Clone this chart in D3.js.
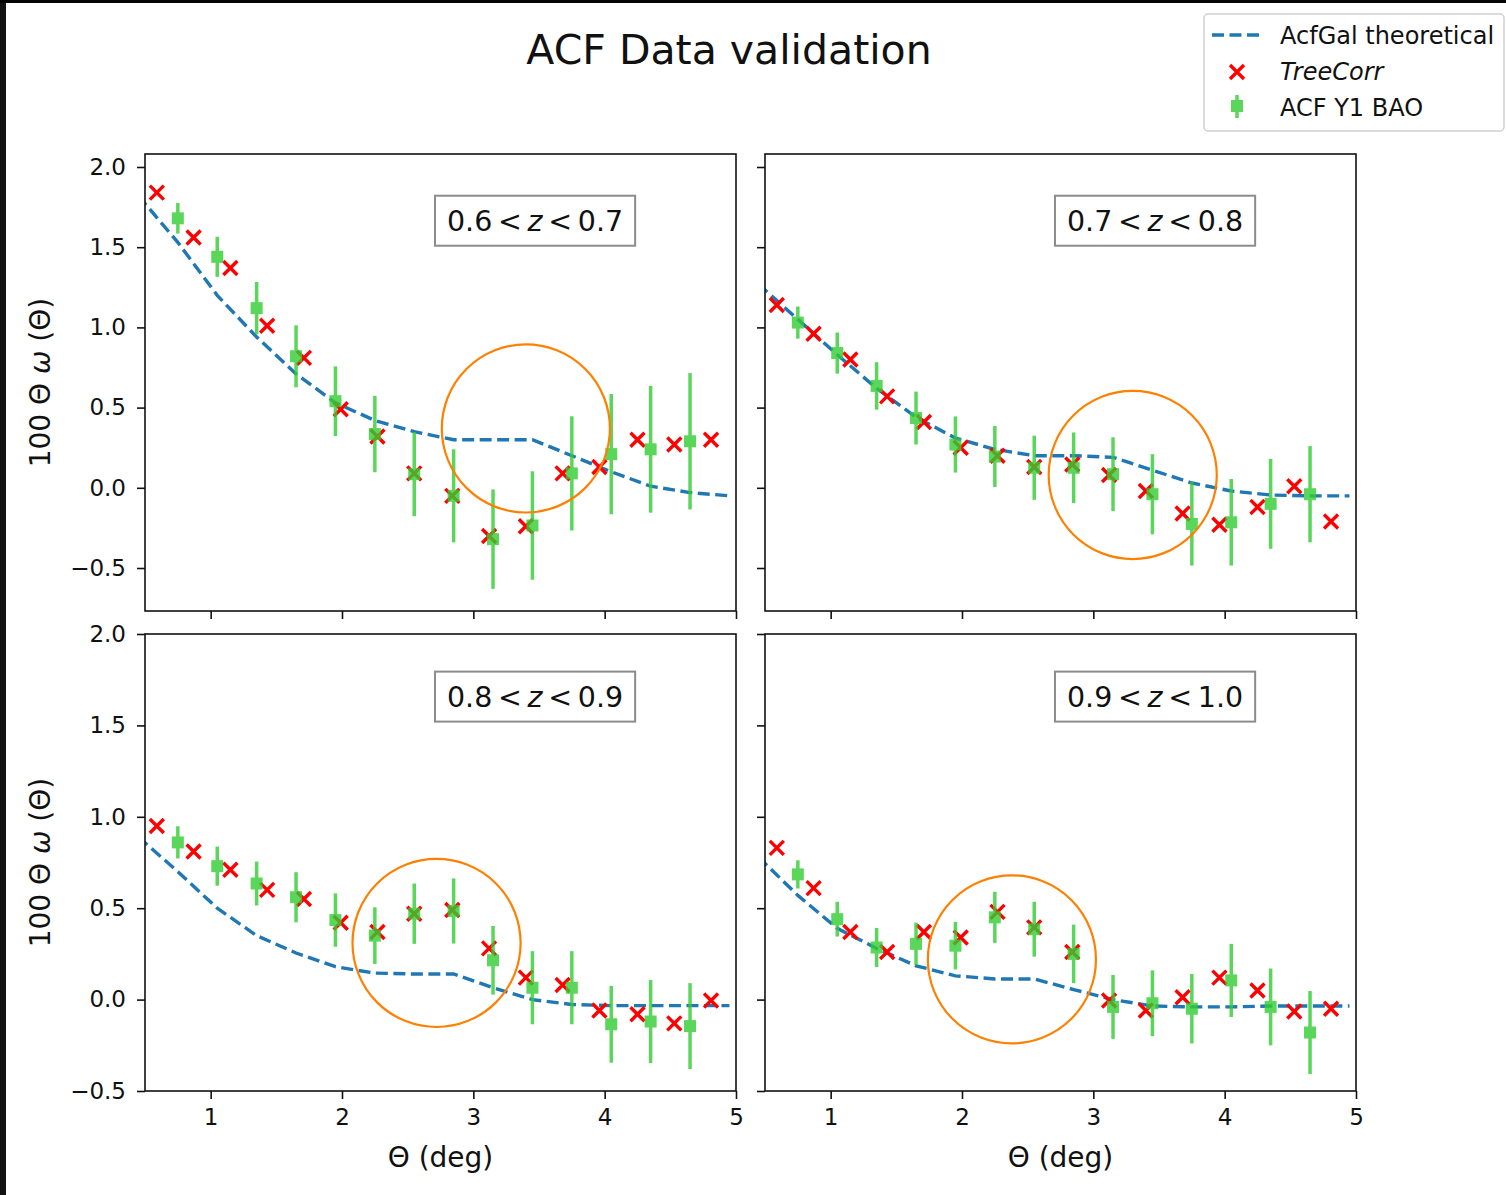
<!DOCTYPE html>
<html>
<head>
<meta charset="utf-8">
<script src="https://cdn.jsdelivr.net/npm/d3@7"></script>
<style>
  body { margin: 0; background: #fff; }
  text { font-family: "DejaVu Sans", sans-serif; fill: #111; }
</style>
</head>
<body>
<div id="chart"></div>
<script>
// angular bins (deg)
var thetaTreeCorr = [0.59, 0.87, 1.15, 1.43, 1.71, 1.99, 2.27, 2.55, 2.84, 3.12, 3.40, 3.68, 3.96, 4.25, 4.53, 4.81];
var thetaY1 = [0.75, 1.05, 1.35, 1.65, 1.95, 2.25, 2.55, 2.85, 3.15, 3.45, 3.75, 4.05, 4.35, 4.65];
var thetaTheory = [0.45, 0.75, 1.05, 1.35, 1.65, 1.95, 2.25, 2.55, 2.85, 3.15, 3.45, 3.75, 4.05, 4.35, 4.65, 4.95];

var zLow = ["0.6", "0.7", "0.8", "0.9"];
var zHigh = ["0.7", "0.8", "0.9", "1.0"];

var xTicks = [1, 2, 3, 4, 5];
var yTicks = [-0.5, 0.0, 0.5, 1.0, 1.5, 2.0];

// 0.6 < z < 0.7
var theory06 = [1.82, 1.53, 1.20, 0.94, 0.71, 0.53, 0.42, 0.35, 0.30, 0.30, 0.30, 0.20, 0.10, 0.01, -0.03, -0.05];
var treecorr06 = [1.84, 1.56, 1.37, 1.01, 0.81, 0.49, 0.32, 0.09, -0.05, -0.30, -0.24, 0.09, 0.13, 0.30, 0.27, 0.30];
var y1bao06 = [1.68, 1.44, 1.12, 0.82, 0.54, 0.335, 0.085, -0.05, -0.32, -0.235, 0.09, 0.21, 0.24, 0.29];
var y1err06 = [0.095, 0.125, 0.163, 0.193, 0.217, 0.238, 0.262, 0.29, 0.31, 0.338, 0.356, 0.375, 0.395, 0.425];

// 0.7 < z < 0.8
var theory07 = [1.27, 1.05, 0.83, 0.62, 0.44, 0.31, 0.24, 0.20, 0.20, 0.19, 0.11, 0.03, -0.02, -0.045, -0.05, -0.05];
var treecorr07 = [1.14, 0.96, 0.80, 0.57, 0.41, 0.25, 0.20, 0.13, 0.145, 0.08, -0.02, -0.16, -0.23, -0.12, 0.01, -0.21];
var y1bao07 = [1.03, 0.84, 0.635, 0.435, 0.27, 0.195, 0.125, 0.125, 0.085, -0.04, -0.225, -0.215, -0.10, -0.04];
var y1err07 = [0.10, 0.128, 0.148, 0.165, 0.175, 0.19, 0.20, 0.22, 0.23, 0.25, 0.26, 0.27, 0.28, 0.30];

// 0.8 < z < 0.9
var theory08 = [0.89, 0.70, 0.50, 0.35, 0.255, 0.18, 0.145, 0.14, 0.14, 0.065, 0.0, -0.027, -0.033, -0.033, -0.033, -0.033];
var treecorr08 = [0.95, 0.81, 0.71, 0.60, 0.55, 0.42, 0.37, 0.47, 0.49, 0.28, 0.12, 0.08, -0.06, -0.08, -0.13, -0.005];
var y1bao08 = [0.86, 0.73, 0.635, 0.56, 0.435, 0.35, 0.47, 0.485, 0.215, 0.065, 0.065, -0.135, -0.12, -0.145];
var y1err08 = [0.088, 0.107, 0.12, 0.137, 0.146, 0.155, 0.165, 0.178, 0.188, 0.20, 0.20, 0.21, 0.227, 0.235];

// 0.9 < z < 1.0
var theory09 = [0.78, 0.57, 0.39, 0.28, 0.185, 0.13, 0.113, 0.113, 0.055, 0.0, -0.035, -0.04, -0.04, -0.035, -0.035, -0.035];
var treecorr09 = [0.83, 0.61, 0.37, 0.26, 0.37, 0.34, 0.48, 0.395, 0.26, -0.005, -0.06, 0.013, 0.12, 0.05, -0.065, -0.05];
var y1bao09 = [0.685, 0.44, 0.285, 0.305, 0.295, 0.45, 0.385, 0.25, -0.04, -0.02, -0.05, 0.105, -0.04, -0.18];
var y1err09 = [0.077, 0.095, 0.107, 0.116, 0.13, 0.14, 0.15, 0.16, 0.175, 0.18, 0.19, 0.20, 0.21, 0.227];

// hand-drawn orange circles (data coords of centre, radius in theta units)
var circleTheta = [3.40, 3.30, 2.72, 2.38];
var circleW = [0.37, 0.08, 0.31, 0.22];
var circleR = 0.64;

var theoryAll = [theory06, theory07, theory08, theory09];
var treecorrAll = [treecorr06, treecorr07, treecorr08, treecorr09];
var y1All = [y1bao06, y1bao07, y1bao08, y1bao09];
var y1errAll = [y1err06, y1err07, y1err08, y1err09];

var svgWidth = 1506;
var svgHeight = 1195;
var plotW = 591;
var plotH = 457;

var panels = [
  {left: 145, top: 154, yDomain: [-0.768, 2.081], row: 0, col: 0},
  {left: 765, top: 154, yDomain: [-0.768, 2.081], row: 0, col: 1},
  {left: 145, top: 634, yDomain: [-0.5, 2.0], row: 1, col: 0},
  {left: 765, top: 634, yDomain: [-0.5, 2.0], row: 1, col: 1}
];

var blue = "#1f77b4";
var red = "#ff0000";
var green = "#32cd32";
var orange = "#ff8000";

var svg = d3.select("#chart")
  .append("svg")
  .attr("width", svgWidth)
  .attr("height", svgHeight);

svg.append("rect").attr("width", svgWidth).attr("height", svgHeight).attr("fill", "#fff");
// dark screenshot edges
svg.append("rect").attr("width", 6).attr("height", svgHeight).attr("fill", "#121212");
svg.append("rect").attr("width", svgWidth).attr("height", 3).attr("fill", "#050505");

var defs = svg.append("defs");
var crossPath = "M-7,-7L7,7M-7,7L7,-7";

panels.forEach(function(p, i) {
  var x = d3.scaleLinear().domain([0.5, 5.0]).range([p.left, p.left + plotW]);
  var y = d3.scaleLinear().domain(p.yDomain).range([p.top + plotH, p.top]);

  defs.append("clipPath").attr("id", "clip" + i)
    .append("rect")
    .attr("x", p.left).attr("y", p.top)
    .attr("width", plotW).attr("height", plotH);

  var g = svg.append("g");
  var inner = g.append("g").attr("clip-path", "url(#clip" + i + ")");

  // theoretical ACF
  var line = d3.line()
    .x(function(d, j) { return x(thetaTheory[j]); })
    .y(function(d) { return y(d); });

  inner.append("path")
    .datum(theoryAll[i])
    .attr("d", line)
    .attr("fill", "none")
    .attr("stroke", blue)
    .attr("stroke-width", 3.4)
    .attr("stroke-dasharray", "12,5.5");

  // TreeCorr crosses
  inner.selectAll(".tc")
    .data(treecorrAll[i])
    .enter()
    .append("path")
    .attr("class", "tc")
    .attr("transform", function(d, j) { return "translate(" + x(thetaTreeCorr[j]) + "," + y(d) + ")"; })
    .attr("d", crossPath)
    .attr("stroke", red)
    .attr("stroke-width", 3.4);

  // ACF Y1 BAO with error bars
  var pts = inner.selectAll(".y1")
    .data(y1All[i])
    .enter()
    .append("g")
    .attr("class", "y1")
    .attr("opacity", 0.8);

  pts.append("line")
    .attr("x1", function(d, j) { return x(thetaY1[j]); })
    .attr("x2", function(d, j) { return x(thetaY1[j]); })
    .attr("y1", function(d, j) { return y(d - y1errAll[i][j]); })
    .attr("y2", function(d, j) { return y(d + y1errAll[i][j]); })
    .attr("stroke", green)
    .attr("stroke-width", 3.5);

  pts.append("rect")
    .attr("x", function(d, j) { return x(thetaY1[j]) - 6; })
    .attr("y", function(d) { return y(d) - 6; })
    .attr("width", 12)
    .attr("height", 12)
    .attr("fill", green);

  // redshift box
  var boxCx = p.left + 0.66 * plotW;
  var boxCy = p.top + (p.row === 0 ? 0.146 : 0.137) * plotH;
  var box = g.append("rect");
  var zt = g.append("text")
    .attr("x", boxCx)
    .attr("y", boxCy + 10)
    .attr("text-anchor", "middle")
    .attr("font-size", 28.5);
  zt.append("tspan").text(zLow[i] + "\u2009<\u2009");
  zt.append("tspan").attr("font-style", "italic").text("z");
  zt.append("tspan").text("\u2009<\u2009" + zHigh[i]);
  var bb = zt.node().getBBox();
  box.attr("x", boxCx - bb.width / 2 - 12)
    .attr("y", boxCy - 25)
    .attr("width", bb.width + 24)
    .attr("height", 50)
    .attr("fill", "#fff")
    .attr("stroke", "#8c8c8c")
    .attr("stroke-width", 2);

  // orange annotation circle
  var r = x(circleTheta[i] + circleR) - x(circleTheta[i]);
  g.append("circle")
    .attr("cx", x(circleTheta[i]))
    .attr("cy", y(circleW[i]))
    .attr("r", r)
    .attr("fill", "none")
    .attr("stroke", orange)
    .attr("stroke-width", 2.2);

  // axes
  var bottomAxis = d3.axisBottom(x)
    .tickValues(xTicks)
    .tickSize(8)
    .tickPadding(10)
    .tickFormat(p.row === 1 ? d3.format("d") : "");
  var leftAxis = d3.axisLeft(y)
    .tickValues(yTicks)
    .tickSize(8)
    .tickPadding(11)
    .tickFormat(p.col === 0 ? d3.format(".1f") : "");

  var xa = g.append("g")
    .attr("transform", "translate(0," + (p.top + plotH) + ")")
    .call(bottomAxis);
  var ya = g.append("g")
    .attr("transform", "translate(" + p.left + ",0)")
    .call(leftAxis);

  [xa, ya].forEach(function(a) {
    a.select(".domain").remove();
    a.selectAll("line").attr("stroke", "#111").attr("stroke-width", 1.6);
    a.selectAll("text").attr("font-size", 23).attr("fill", "#222")
      .style("font-family", "'DejaVu Sans', sans-serif");
  });

  g.append("rect")
    .attr("x", p.left).attr("y", p.top)
    .attr("width", plotW).attr("height", plotH)
    .attr("fill", "none")
    .attr("stroke", "#111")
    .attr("stroke-width", 1.6);

  if (p.row === 1) {
    g.append("text")
      .attr("x", p.left + plotW / 2)
      .attr("y", 1167)
      .attr("text-anchor", "middle")
      .attr("font-size", 28)
      .text("\u0398 (deg)");
  }
  if (p.col === 0) {
    var yl = g.append("text")
      .attr("transform", "translate(50," + (p.top + plotH / 2) + ") rotate(-90)")
      .attr("text-anchor", "middle")
      .attr("font-size", 28);
    yl.append("tspan").text("100 \u0398 ");
    yl.append("tspan").attr("font-style", "italic").text("\u03c9");
    yl.append("tspan").text(" (\u0398)");
  }
});

// title
svg.append("text")
  .attr("x", 729)
  .attr("y", 64)
  .attr("text-anchor", "middle")
  .attr("font-size", 41)
  .text("ACF Data validation");

// legend
var legend = svg.append("g");
legend.append("rect")
  .attr("x", 1204).attr("y", 14)
  .attr("width", 300).attr("height", 117)
  .attr("rx", 4)
  .attr("fill", "#fff")
  .attr("stroke", "#d0d0d0")
  .attr("stroke-width", 1.5);

legend.append("line")
  .attr("x1", 1212).attr("x2", 1262)
  .attr("y1", 35).attr("y2", 35)
  .attr("stroke", blue)
  .attr("stroke-width", 3.4)
  .attr("stroke-dasharray", "12,5.5");

legend.append("path")
  .attr("transform", "translate(1237,72)")
  .attr("d", crossPath)
  .attr("stroke", red)
  .attr("stroke-width", 3.4);

var lg = legend.append("g").attr("opacity", 0.8);
lg.append("line")
  .attr("x1", 1237).attr("x2", 1237)
  .attr("y1", 95).attr("y2", 118)
  .attr("stroke", green)
  .attr("stroke-width", 3.5);
lg.append("rect")
  .attr("x", 1231).attr("y", 100)
  .attr("width", 12).attr("height", 12)
  .attr("fill", green);

var legendLabels = ["AcfGal theoretical", "TreeCorr", "ACF Y1 BAO"];
var legendRows = [35, 71, 107];
legend.selectAll(".lt")
  .data(legendLabels)
  .enter()
  .append("text")
  .attr("class", "lt")
  .attr("x", 1280)
  .attr("y", function(d, j) { return legendRows[j] + 8.5; })
  .attr("font-size", 24)
  .attr("font-style", function(d) { return d === "TreeCorr" ? "italic" : "normal"; })
  .text(function(d) { return d; });
</script>
</body>
</html>
